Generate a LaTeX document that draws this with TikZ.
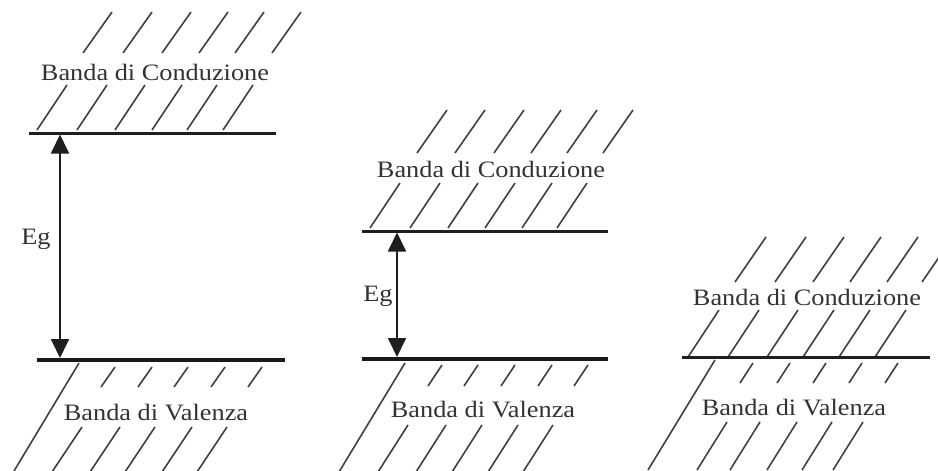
\documentclass[tikz,border=0pt]{standalone}
\usepackage{fontspec}
\setmainfont{Liberation Serif}
\usetikzlibrary{arrows.meta}
\begin{document}
\begin{tikzpicture}[x=1pt,y=-1pt,
  hatch/.style={line width=1.6pt, draw=black!75},
  cband/.style={line width=3pt, draw=black!88},
  vband/.style={line width=3.8pt, draw=black!90},
  lbl/.style={anchor=base, inner sep=0pt, text=black!80, font=\fontsize{23.5}{24}\selectfont},
  gaparrow/.style={{Triangle[width=18pt,length=19pt]}-{Triangle[width=18pt,length=19pt]}, line width=1.8pt, draw=black!88}]
\useasboundingbox (0,0) rectangle (938,471);
\clip (0,0) rectangle (938,471);
\fill[white] (0,0) rectangle (938,471);

% ---------------- Diagram 1 ----------------
\foreach \x in {83,123,162,199,235,272} \draw[hatch] (\x,53) -- (\x+29,12);
\foreach \x in {37,77,115,152,187,223} \draw[hatch] (\x,130) -- (\x+30,85);
\node[lbl] (cb1) at (155,80) {\scalebox{1.12}[1]{Banda di Conduzione}};
\draw[cband] (29,133) -- (276,133);
\draw[vband] (37,360) -- (285,360);
\draw[hatch] (79,363) -- (14,471);
\foreach \x in {115,152,188,225,262} \draw[hatch] (\x,367) -- (\x-14,387);
\foreach \x in {82,120,155,192,227} \draw[hatch] (\x,427) -- (\x-30,472);
\node[lbl] (vb1) at (156,420) {\scalebox{1.12}[1]{Banda di Valenza}};
\coordinate (t1) at (60,134.5);
\coordinate (b1) at (60,358);
\draw[gaparrow] (t1) -- (b1);
\node[lbl] (eg1) at (36,244) {\scalebox{1.12}[1]{Eg}};

% ---------------- Diagram 2 ----------------
\foreach \x in {417,455,494,531,567,603} \draw[hatch] (\x,153) -- (\x+30,110);
\foreach \x in {370,410,448,485,522,557} \draw[hatch] (\x,228) -- (\x+30,183);
\node[lbl] (cb2) at (491,177) {\scalebox{1.12}[1]{Banda di Conduzione}};
\draw[cband] (362,231) -- (608,231);
\draw[vband] (362,359) -- (608,359);
\draw[hatch] (405,363) -- (339,472);
\foreach \x in {442,478,515,552,588} \draw[hatch] (\x,365) -- (\x-14,386);
\foreach \x in {408,446,482,518,553} \draw[hatch] (\x,425) -- (\x-30,472);
\node[lbl] (vb2) at (483,417) {\scalebox{1.12}[1]{Banda di Valenza}};
\coordinate (t2) at (397,232.5);
\coordinate (b2) at (397,357);
\draw[gaparrow] (t2) -- (b2);
\node[lbl] (eg2) at (378,301) {\scalebox{1.12}[1]{Eg}};

% ---------------- Diagram 3 ----------------
\foreach \x in {735,775,813,850,887,922} \draw[hatch] (\x,282) -- (\x+31,237);
\foreach \x in {688,728,767,803,839,875} \draw[hatch] (\x,357) -- (\x+31,310);
\node[lbl] (cb3) at (807,305) {\scalebox{1.12}[1]{Banda di Conduzione}};
\draw[cband] (682,357) -- (930,357);
\draw[hatch] (715,360) -- (648,470);
\foreach \x in {753,790,826,862,898} \draw[hatch] (\x,363) -- (\x-13,383);
\foreach \x in {727,760,797,832,863} \draw[hatch] (\x,422) -- (\x-30,470);
\node[lbl] (vb3) at (794,415) {\scalebox{1.12}[1]{Banda di Valenza}};
\end{tikzpicture}
\end{document}
